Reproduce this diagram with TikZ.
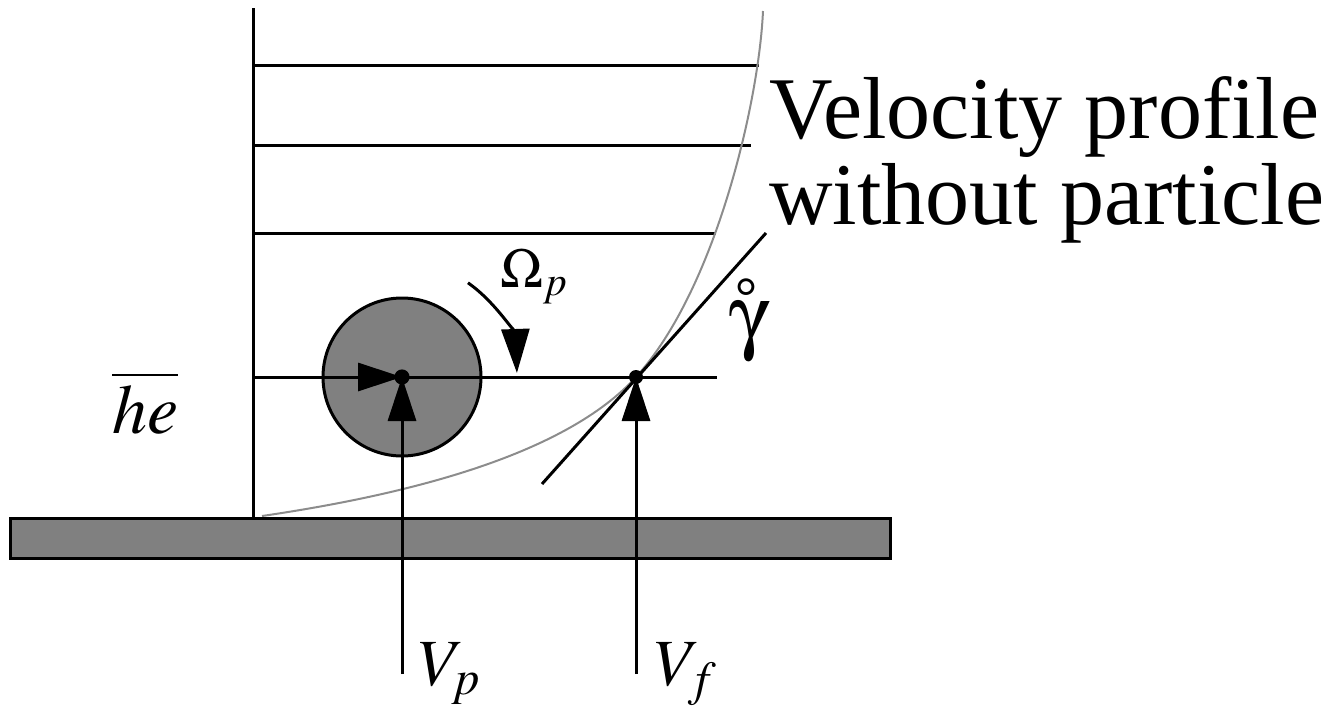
\documentclass[tikz,border=0pt]{standalone}
\usepackage{mathptmx}
\usepackage[no-math]{fontspec}
\setmainfont{Liberation Serif}
\usetikzlibrary{arrows.meta,calc}
\definecolor{wallgray}{HTML}{808080}
\definecolor{profgray}{HTML}{8C8C8C}
\newcommand{\symgamma}{\hbox{\usefont{U}{psy}{m}{n}g}}

\begin{document}
\begin{tikzpicture}[x=0.5pt,y=0.5pt,
 blackline/.style={line width=1.5pt,draw=black},
 profline/.style={line width=1pt,draw=profgray},
 bigtip/.style={-{Triangle[length=22pt,width=14pt]},line width=1.5pt},
 wallbox/.style={line width=1.5pt,draw=black,fill=wallgray},
 mathlabel/.style={inner sep=0pt,anchor=base west,font=\fontsize{33}{33}\selectfont}
]
\useasboundingbox (0,0) rectangle (1340,-723);
% wall and key points
\draw[wallbox] (10,-518) rectangle (890,-558);
\coordinate (pcenter) at (402,-377);
\coordinate (tpoint) at (636,-377);
\coordinate (vpfoot) at (402,-674);
\coordinate (vffoot) at (636,-674);
% velocity profile lines
\draw[blackline] (253,-8) -- (253,-518);
\draw[blackline] (253,-65) -- (759,-65);
\draw[blackline] (253,-145) -- (751,-145);
\draw[blackline] (253,-233) -- (716,-233);
% particle
\draw[line width=1.5pt,fill=wallgray] (pcenter) circle[radius=39.5pt];
\draw[blackline] (pcenter) -- (717,-377);
\draw[bigtip] (253,-377) -- (pcenter);
\draw[profline] (262,-516) .. controls (412,-494) and (566,-454) .. (tpoint)
  .. controls (716,-289) and (759,-101) .. (763,-11);
\draw[blackline] (542,-484) -- (766,-233);
\draw[bigtip] (vpfoot) -- (pcenter);
\draw[bigtip] (vffoot) -- (tpoint);
\draw[bigtip] ($(pcenter)+(55:57.5pt)$) arc[start angle=55,end angle=2,radius=57.5pt];
\fill (pcenter) circle[radius=3.8pt];
\fill (tpoint) circle[radius=3.5pt];
% labels
\node[mathlabel,font=\fontsize{28}{28}\selectfont] (omega) at (500,-287) {$\Omega_p$};
\node[mathlabel,font=\fontsize{42}{42}\selectfont] (gdot) at (729,-343) {$\mathring{\symgamma}$};
\node[mathlabel,font=\fontsize{35}{35}\selectfont] (he) at (112,-433) {$\overline{he}$};
\node[mathlabel] (vp) at (418,-685) {$V_p$};
\node[mathlabel] (vf) at (654,-685) {$V_f$};
\node[inner sep=0pt,anchor=north west,align=left,font=\fontsize{44}{43}\selectfont] (profile) at (769,-76)
  {Velocity profile\\without particle};
\end{tikzpicture}
\end{document}
